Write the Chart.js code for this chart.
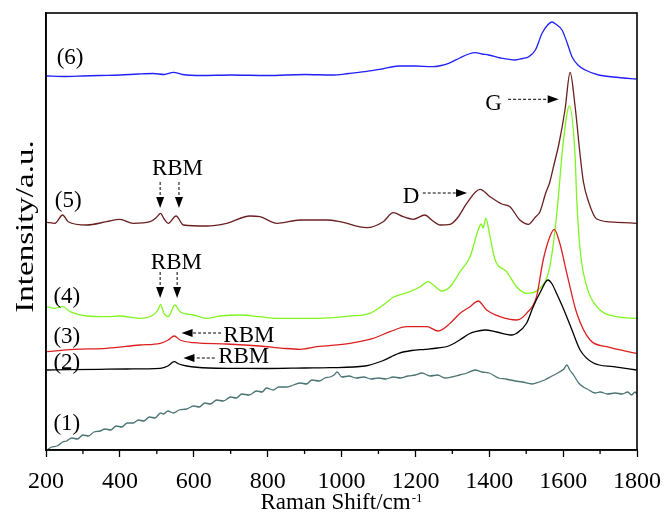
<!DOCTYPE html>
<html><head><meta charset="utf-8">
<script src="https://cdn.jsdelivr.net/npm/chart.js@4.4.0/dist/chart.umd.min.js"></script>
<style>html,body{margin:0;padding:0;background:#fff}canvas{display:block}</style>
</head><body>
<canvas id="c" width="664" height="520"></canvas>
<script>
// ---- data (Raman shift cm-1, intensity a.u.) ----
const xMin = 200, xMax = 1800;
const majorTicks = [200, 400, 600, 800, 1000, 1200, 1400, 1600, 1800];
const minorTicks = [300, 500, 700, 900, 1100, 1300, 1500, 1700];

const s1 = [[202,0],[215,3],[230,4],[245,8],[256,9],[270,12],[285,11],[300,15],[315,14],[330,18],[346,19],[360,21],[375,20],[390,24],[405,23],[420,27],[436,27],[450,30],[465,29],[480,33],[495,32],[510,37],[518,36],[530,39],[545,37],[560,40],[581,41],[600,44],[615,43],[630,47],[645,46],[662,50],[680,49],[700,53],[715,52],[730,56],[750,55],[770,59],[785,58],[797,62],[815,60],[830,63],[850,63],[870,65],[888,67],[905,66],[920,70],[940,69],[955,72],[969,73],[980,75],[988,78],[1001,73],[1020,74],[1040,72],[1060,73],[1080,71],[1100,72],[1120,71],[1140,73],[1160,72],[1180,74],[1200,75],[1218,77],[1240,74],[1260,75],[1280,72],[1299,73],[1320,75],[1340,77],[1362,80],[1380,78],[1400,77],[1425,72],[1445,71],[1470,69],[1490,68],[1516,66],[1535,68],[1550,70],[1570,74],[1590,78],[1602,81],[1610,85],[1618,80],[1630,74],[1642,67],[1655,63],[1665,61],[1687,57],[1700,58],[1720,56],[1741,57],[1760,56],[1775,58],[1785,55],[1795,58],[1799,56]];

const s2 = [[202,80],[260,80.3],[346,80.7],[420,81],[509,81.7],[530,84],[547,88.3],[560,86],[581,84],[640,82],[707,81.7],[800,81.5],[900,82],[969,82.3],[1064,84],[1110,89],[1155,96.7],[1190,99.5],[1227,100.7],[1260,102],[1290,104],[1320,110],[1345,116],[1362,118.3],[1389,120],[1420,118],[1462,115],[1474,116.7],[1501,126.7],[1519,143.3],[1537,157],[1559,170],[1570,166],[1583,156],[1600,142],[1624,120],[1646,100],[1682,87],[1736,83.3],[1799,80]];

const s3 = [[203,98.3],[274,100.7],[364,101.7],[454,105],[509,106.7],[531,110],[547,114],[563,110],[599,107.3],[689,106],[779,104],[842,101.7],[888,100.7],[933,103.3],[1023,106.7],[1086,111.7],[1131,118.3],[1177,123.3],[1231,123.3],[1262,119],[1294,126.7],[1321,136.7],[1348,143.3],[1370,149],[1393,140],[1429,133.3],[1474,130],[1501,136.7],[1528,153.3],[1546,190],[1564,213.3],[1576,220.7],[1591,206.7],[1610,176.7],[1637,136.7],[1673,110],[1718,103.3],[1799,96.7]];

const s4 = [[203,143.3],[224,141.7],[245,143.3],[265,138.3],[310,134],[364,133.3],[400,134],[454,131.7],[490,135],[503,140],[510,145.7],[519,136.7],[531,133.3],[549,145],[563,138.3],[599,135],[635,131.7],[671,134],[725,135],[779,133.3],[825,131.7],[933,131.7],[1023,134],[1077,136.7],[1113,145],[1140,152.7],[1185,158.3],[1213,163.3],[1235,168.3],[1249,165],[1271,159],[1294,163.3],[1321,178.3],[1348,193.3],[1370,220],[1378,226],[1383,222],[1391,231.5],[1402,213.3],[1416,190],[1447,178.3],[1474,163.3],[1501,156.7],[1537,161.7],[1564,183.3],[1583,236.7],[1600,306.7],[1617,344],[1632,296.7],[1637,250],[1646,200],[1664,163.3],[1691,143.3],[1745,133.3],[1799,131.7]];

const s5 = [[203,227.7],[224,226.7],[245,235],[260,228.3],[310,225],[364,228.3],[400,230.7],[436,226.7],[482,228.3],[500,233],[510,236.7],[520,231],[531,226.7],[552,234],[572,225],[635,224],[689,226.7],[752,234],[779,233.3],[825,226.7],[888,230],[960,230],[996,228.3],[1068,222.3],[1113,228.3],[1140,237.3],[1167,233.3],[1194,230.7],[1226,235],[1244,230],[1267,225],[1294,225.7],[1316,233],[1339,246.7],[1375,260.7],[1402,253.3],[1434,246],[1456,243.3],[1483,230],[1506,225.7],[1525,233],[1537,238],[1552,256],[1564,268],[1575,285],[1588,305],[1605,340],[1619,377.5],[1632,345],[1646,295],[1655,268],[1669,248],[1691,231],[1745,227.7],[1799,226.7]];

const s6 = [[202,374],[250,373.5],[300,374],[346,374.5],[400,375],[450,376],[490,376.5],[520,375.5],[545,377.7],[570,375.5],[620,374.5],[700,375],[800,374.5],[900,375.5],[974,375],[1020,376.5],[1064,378.3],[1110,381],[1155,384],[1200,384],[1245,383.3],[1270,384.5],[1290,386.7],[1320,392],[1345,396],[1362,397.3],[1380,396],[1398,395],[1430,392],[1470,390],[1490,391.5],[1507,393.3],[1525,400],[1543,416.7],[1558,425],[1570,428],[1580,426],[1597,420],[1610,408],[1624,393.3],[1640,385],[1660,380],[1696,375],[1750,372.5],[1798,371]];

// ---- annotations (data coordinates) ----
const seriesLabels = [['(6)',229,392],['(5)',224,249],['(4)',220,153.5],['(3)',220,113.5],['(2)',220,87],['(1)',220,26]];
const notes = [['RBM',556,275,'center'],['RBM',553,181,'center'],['RBM',680,108.3,'left'],['RBM',666,86.7,'left'],['D',1166,246.7,'left'],['G',1389,340,'left']];
const arrows = [[509,268,509,242],[560,268,560,242],[509,178,509,152],[555,178,555,152],[674,117,567,117],[657,92,572,92],[1220,257,1340,257],[1451,350.7,1588,350.7]];

const SERIF = '"Liberation Serif", "Times New Roman", serif';

const deco = {
  id: 'deco',
  afterDraw(chart) {
    const {ctx, chartArea: a, scales: {x, y}} = chart;
    ctx.save();
    ctx.strokeStyle = '#000'; ctx.fillStyle = '#000';
    ctx.lineWidth = 1.6;
    ctx.strokeRect(a.left, a.top, a.right - a.left, a.bottom - a.top);
    ctx.lineWidth = 1.3;
    minorTicks.forEach(v => {
      const px = x.getPixelForValue(v);
      ctx.beginPath(); ctx.moveTo(px, a.bottom); ctx.lineTo(px, a.bottom + 4); ctx.stroke();
    });
    // series labels
    ctx.font = '23px ' + SERIF;
    ctx.textBaseline = 'middle'; ctx.textAlign = 'left';
    seriesLabels.forEach(([t, vx, vy]) => ctx.fillText(t, x.getPixelForValue(vx), y.getPixelForValue(vy)));
    ctx.textBaseline = 'alphabetic';
    notes.forEach(([t, vx, vy, al]) => { ctx.textAlign = al; ctx.fillText(t, x.getPixelForValue(vx), y.getPixelForValue(vy)); });
    // arrows
    arrows.forEach(([x0, y0, x1, y1]) => {
      const p0 = [x.getPixelForValue(x0), y.getPixelForValue(y0)];
      const p1 = [x.getPixelForValue(x1), y.getPixelForValue(y1)];
      const dx = p1[0] - p0[0], dy = p1[1] - p0[1];
      const L = Math.hypot(dx, dy), ux = dx / L, uy = dy / L;
      const hl = 11, hw = 4;
      ctx.setLineDash([3, 2]); ctx.lineWidth = 1;
      ctx.beginPath(); ctx.moveTo(p0[0], p0[1]); ctx.lineTo(p1[0] - ux * hl, p1[1] - uy * hl); ctx.stroke();
      ctx.setLineDash([]);
      ctx.beginPath();
      ctx.moveTo(p1[0], p1[1]);
      ctx.lineTo(p1[0] - ux * hl - uy * hw, p1[1] - uy * hl + ux * hw);
      ctx.lineTo(p1[0] - ux * hl + uy * hw, p1[1] - uy * hl - ux * hw);
      ctx.closePath(); ctx.fill();
    });
    // x axis title with superscript
    const cx = (a.left + a.right) / 2;
    const main = 'Raman Shift/cm', sup = '-1';
    ctx.font = '23px ' + SERIF; const wm = ctx.measureText(main).width;
    ctx.font = '13px ' + SERIF; const ws = ctx.measureText(sup).width;
    const lx = cx - (wm + ws + 1) / 2;
    ctx.textAlign = 'left'; ctx.textBaseline = 'alphabetic';
    ctx.font = '23px ' + SERIF; ctx.fillText(main, lx, 509);
    ctx.font = '13px ' + SERIF; ctx.fillText(sup, lx + wm + 1, 502);
    // y axis title
    ctx.save();
    ctx.translate(32.5, (a.top + a.bottom) / 2 - 5);
    ctx.rotate(-Math.PI / 2);
    ctx.scale(1.27, 1);
    ctx.font = '26px ' + SERIF; ctx.textAlign = 'center'; ctx.textBaseline = 'alphabetic';
    ctx.fillText('Intensity/a.u.', 0, 0);
    ctx.restore();
    ctx.restore();
  }
};

const mk = (pts, color) => ({
  data: pts.map(([px, py]) => ({x: px, y: py})),
  borderColor: color, borderWidth: 1.3, pointRadius: 0,
  cubicInterpolationMode: 'monotone', fill: false
});

new Chart(document.getElementById('c'), {
  type: 'line',
  data: {
    datasets: [
      mk(s1, '#4a7474'),
      mk(s2, '#000000'),
      mk(s3, '#dc2020'),
      mk(s4, '#80f520'),
      mk(s5, '#6a1f1f'),
      mk(s6, '#2020f8')
    ]
  },
  options: {
    responsive: false, animation: false,
    layout: {padding: {left: 0, right: 27, top: 13, bottom: 0}},
    plugins: {legend: {display: false}, tooltip: {enabled: false}},
    scales: {
      x: {
        type: 'linear', min: xMin, max: xMax,
        afterBuildTicks: s => { s.ticks = majorTicks.map(v => ({value: v})); },
        ticks: {autoSkip: false, maxRotation: 0, color: '#000', padding: 10,
                font: {family: SERIF, size: 24}, callback: v => String(v)},
        grid: {display: true, drawOnChartArea: false, drawTicks: true, tickLength: 7, tickColor: '#000', tickWidth: 1.3},
        border: {display: true, color: '#000', width: 1.6},
        title: {display: false},
        afterFit: s => { s.height = 70; s.paddingLeft = 0; s.paddingRight = 0; }
      },
      y: {
        type: 'linear', min: 0, max: 437,
        ticks: {display: false},
        grid: {display: false},
        border: {display: true, color: '#000', width: 1.6},
        afterFit: s => { s.width = 46; }
      }
    }
  },
  plugins: [deco]
});
</script>
</body></html>
